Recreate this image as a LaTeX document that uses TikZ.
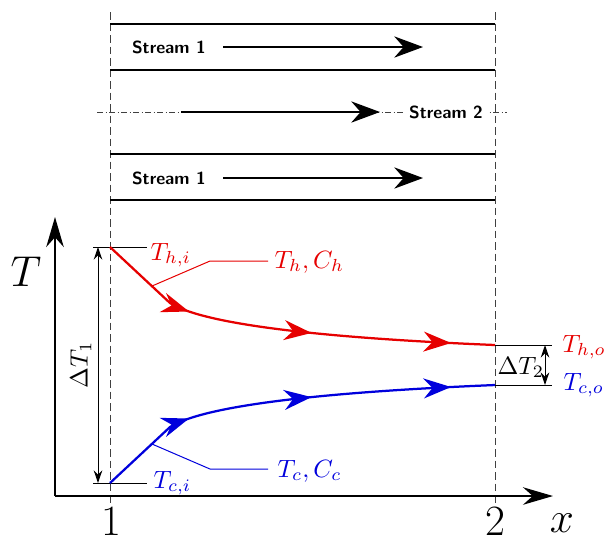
\documentclass[tikz,border=0pt]{standalone}
\usepackage{amsmath}
\usetikzlibrary{arrows.meta,decorations.markings}
\definecolor{hot}{HTML}{E60000}
\definecolor{cold}{HTML}{0000DC}
\tikzset{
  wall/.style={line width=0.5pt},
  guide/.style={line width=0.4pt, black!75, dash pattern=on 3pt off 1.6pt},
  centre/.style={line width=0.4pt, black!75, dash pattern=on 2.4pt off 1pt on 0.4pt off 1pt},
  flowarr/.style={-{Stealth[length=11.5pt,width=8.5pt]}, line width=0.8pt},
  axis/.style={-{Stealth[length=12pt,width=7pt]}, line width=0.8pt},
  tickl/.style={line width=0.4pt},
  dimarr/.style={{Stealth[length=5pt,width=3.4pt]}-{Stealth[length=5pt,width=3.4pt]}, line width=0.4pt},
  leader/.style={line width=0.4pt},
  profile/.style={line width=0.9pt, postaction=decorate, decoration={markings,
    mark=at position 0.25 with {\arrow{Stealth[length=11pt,width=8pt]}},
    mark=at position 0.553 with {\arrow{Stealth[length=11pt,width=8pt]}},
    mark=at position 0.893 with {\arrow{Stealth[length=11pt,width=8pt]}}}},
  slab/.style={font=\sffamily\bfseries\scriptsize, inner sep=1pt},
  lab/.style={inner sep=0pt},
  big/.style={inner sep=0pt, font=\fontsize{16}{18}\selectfont},
}

\begin{document}
\begin{tikzpicture}[x=0.4pt,y=-0.4pt]
\useasboundingbox (0,0) rectangle (605,543);

% ===================== channel: walls and streams ===========================
\draw[guide] (110,12) -- (110,503);
\draw[guide] (495,12) -- (495,503);
\foreach \yw in {24,70,154,200}
  \draw[wall] (110,\yw) -- (495,\yw);
\draw[centre] (97,112) -- (507,112);

\node[slab, anchor=west] (s1top) at (129,47) {Stream 1};
\coordinate (a1s) at (223,47);
\coordinate (a1e) at (423,47);
\draw[flowarr] (a1s) -- (a1e);

\node[slab, anchor=west] (s1bot) at (129,178) {Stream 1};
\coordinate (a3s) at (223,178);
\coordinate (a3e) at (423,178);
\draw[flowarr] (a3s) -- (a3e);

\node[slab, fill=white, inner sep=2pt] (s2) at (446,112) {Stream 2};
\coordinate (a2s) at (181,112);
\coordinate (a2e) at (380,112);
\draw[flowarr] (a2s) -- (a2e);

% ===================== axes ==================================================
\coordinate (O) at (55,496);
\coordinate (Ttip) at (55,217);
\coordinate (xtip) at (553,496);
\draw[axis] (O) -- (Ttip);
\draw[axis] (O) -- (xtip);
\node[inner sep=0pt, font=\fontsize{19}{21}\selectfont] (Tax) at (26,272) {$T$};
\node[inner sep=0pt, font=\fontsize{18}{20}\selectfont] (xax) at (562,523) {$x$};
\node[big] (one) at (111,522) {$1$};
\node[big] (two) at (495,522) {$2$};

% ===================== inlet temperatures ===================================
\coordinate (hi) at (110,247);
\coordinate (ci) at (110,483);
\coordinate (hiL) at (93,247);
\coordinate (hiR) at (147,247);
\coordinate (ciL) at (93,483);
\coordinate (ciR) at (147,483);
\draw[tickl] (hiL) -- (hiR);
\draw[tickl] (ciL) -- (ciR);
\node[lab, hot, anchor=base west] (Thi) at (150,260) {$T_{h,i}$};
\node[lab, cold, anchor=base west] (Tci) at (153,488) {$T_{c,i}$};
\coordinate (d1t) at (98,247);
\coordinate (d1b) at (98,483);
\draw[dimarr] (d1t) -- (d1b);
\node[lab, rotate=90] (dT1) at (81,365) {$\Delta T_1$};

% ===================== temperature profiles =================================
\coordinate (ho) at (495,345);
\coordinate (co) at (495,385);
\draw[profile, hot] (hi) -- (170,303) .. controls (200,322) and (300,337) .. (ho);
\draw[profile, cold] (ci) -- (170,427) .. controls (200,408) and (300,393) .. (co);

\coordinate (hk) at (152,286);
\coordinate (hb) at (210,261);
\coordinate (he) at (268,261);
\draw[leader, hot] (hk) -- (hb) -- (he);
\node[lab, hot, anchor=base west] (ThCh) at (274,268) {$T_h,C_h$};

\coordinate (ck) at (152,444);
\coordinate (cb) at (210,469);
\coordinate (ce) at (268,469);
\draw[leader, cold] (ck) -- (cb) -- (ce);
\node[lab, cold, anchor=base west] (TcCc) at (277,477) {$T_c,C_c$};

% ===================== outlet temperatures ==================================
\coordinate (hoR) at (552,345);
\coordinate (coR) at (552,385);
\draw[tickl] (ho) -- (hoR);
\draw[tickl] (co) -- (coR);
\coordinate (d2t) at (545,345);
\coordinate (d2b) at (545,385);
\draw[dimarr] (d2t) -- (d2b);
\node[lab, anchor=base west] (dT2) at (497,374) {$\Delta T_2$};
\node[lab, hot, anchor=base west] (Tho) at (562,352) {$T_{h,o}$};
\node[lab, cold, anchor=base west] (Tco) at (563,390) {$T_{c,o}$};

\end{tikzpicture}
\end{document}
